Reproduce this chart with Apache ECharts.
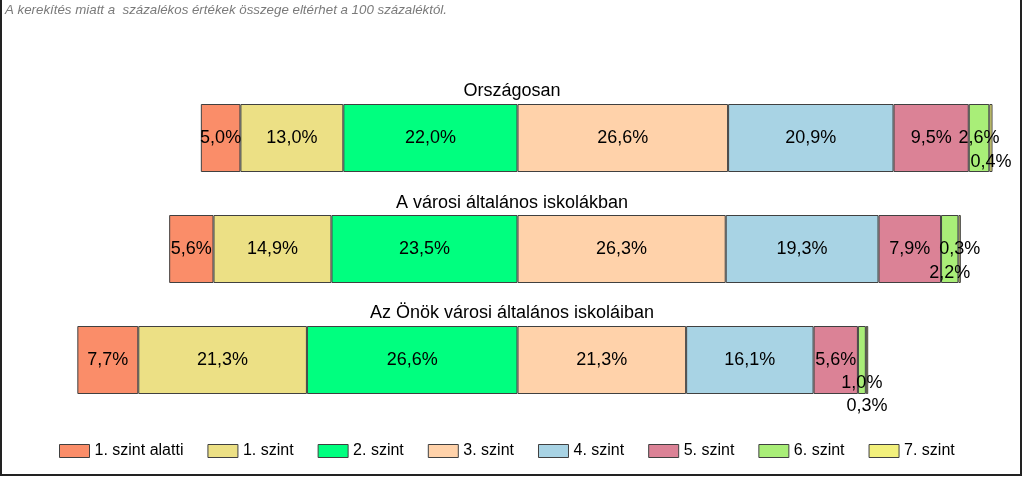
<!DOCTYPE html>
<html>
<head>
<meta charset="utf-8">
<script src="https://cdn.jsdelivr.net/npm/echarts@6/dist/echarts.min.js"></script>
<style>html,body{margin:0;padding:0;background:#fff}#c{width:1024px;height:478px}</style>
</head>
<body>
<div id="c"></div>
<script>
const categories = ['Országosan', 'A városi általános iskolákban', 'Az Önök városi általános iskoláiban'];
const levels = ['1. szint alatti', '1. szint', '2. szint', '3. szint', '4. szint', '5. szint', '6. szint', '7. szint'];
const below1 = [5.0, 5.6, 7.7];
const level1 = [13.0, 14.9, 21.3];
const level2 = [22.0, 23.5, 26.6];
const level3 = [26.6, 26.3, 21.3];
const level4 = [20.9, 19.3, 16.1];
const level5 = [9.5, 7.9, 5.6];
const level6 = [2.6, 2.2, 1.0];
const level7 = [0.4, 0.3, 0.3];
const note = 'A kerekítés miatt a  százalékos értékek összege eltérhet a 100 százaléktól.';

const colors = ['#FA8D69', '#ECE085', '#00FF7F', '#FFD2AA', '#A8D3E4', '#DB8296', '#A9EE78', '#F2F07C'];
const values = [below1, level1, level2, level3, level4, level5, level6, level7];
const leftSide = [true, true, true, false, false, false, false, false];
// vertical label shifts for tiny segments (level index -> per category)
const labelShift = {6: [0, 24, 23], 7: [24, 0, 46]};
const FONT = 'Arial, "Liberation Sans", sans-serif';

function fmt(v) { return Math.abs(v).toFixed(1).replace('.', ',') + '%'; }

function makeSeries(i) {
  return {
    name: levels[i],
    type: 'bar',
    stack: 'total',
    barWidth: 68,
    itemStyle: { color: colors[i], borderColor: '#404040', borderWidth: 1 },
    label: {
      show: true, position: 'inside', color: '#000', fontSize: 18, fontFamily: FONT,
      formatter: p => fmt(p.value)
    },
    labelLayout: function (params) {
      const s = labelShift[i];
      return { hideOverlap: false, dy: s ? s[params.dataIndex] : 0 };
    },
    emphasis: { disabled: true },
    data: values[i].map(v => (leftSide[i] ? -v : v))
  };
}
// stacking order: left side from the centre outwards, then right side
const order = [2, 1, 0, 3, 4, 5, 6, 7];
const series = order.map(makeSeries);

const titleTops = [82, 194, 304];
const chart = echarts.init(document.getElementById('c'));
chart.setOption({
  animation: false,
  title: categories.map((c, k) => ({
    text: c, left: 'center', top: titleTops[k], padding: 0,
    textStyle: { fontSize: 18, fontWeight: 'normal', color: '#000', fontFamily: FONT }
  })).concat([{
    text: note, left: 5, top: 4, padding: 0,
    textStyle: { fontSize: 13.3, fontStyle: 'italic', fontWeight: 'normal', color: '#7a7a7a', fontFamily: FONT }
  }]),
  legend: {
    data: levels, left: 54, top: 438, itemWidth: 30, itemHeight: 13, itemGap: 24, icon: 'rect',
    textStyle: { fontSize: 16, color: '#000', fontFamily: FONT },
    itemStyle: { borderColor: '#404040', borderWidth: 1 }
  },
  grid: { left: 42.5, right: 31.5, top: 82.5, bottom: 62.5 },
  xAxis: { type: 'value', min: -60, max: 60, show: false },
  yAxis: { type: 'category', data: categories, inverse: true, show: false },
  series: series,
  graphic: [{
    type: 'rect', shape: { x: 1, y: -3, width: 1020, height: 478 },
    style: { fill: 'none', stroke: '#222', lineWidth: 2 }, silent: true
  }]
});
</script>
</body>
</html>
